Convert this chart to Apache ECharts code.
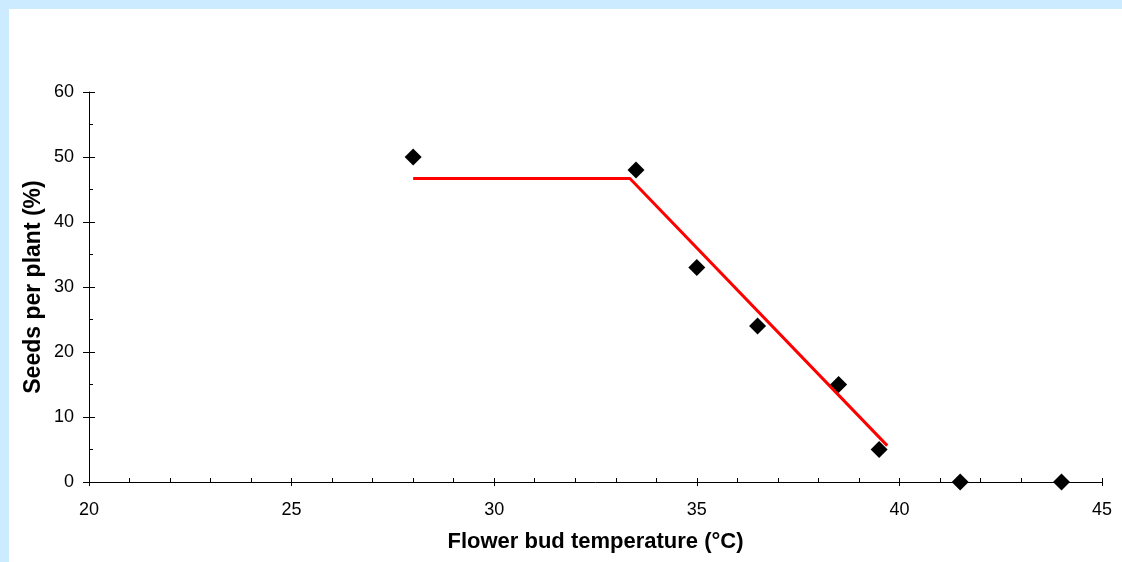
<!DOCTYPE html>
<html>
<head>
<meta charset="utf-8">
<script src="https://cdn.jsdelivr.net/npm/echarts@6/dist/echarts.min.js"></script>
<style>
html,body{margin:0;padding:0;background:#cdebff;}
#chart{width:1122px;height:562px;}
</style>
</head>
<body>
<div id="chart"></div>
<script>
// Observed data points
const temperature = [28, 33.5, 35, 36.5, 38.5, 39.5, 41.5, 44];
const seeds = [50, 48, 33, 24, 15, 5, 0, 0];
// Fitted broken-stick line (vertices)
const fitX = [28, 33.35, 39.7];
const fitY = [46.7, 46.7, 5.6];
// Axis settings
const xTitle = 'Flower bud temperature (°C)';
const yTitle = 'Seeds per plant (%)';
const xMin = 20, xMax = 45, xStep = 5;
const yMin = 0, yMax = 60, yStep = 10;

const font = 'Liberation Sans, Arial, sans-serif';
const chart = echarts.init(document.getElementById('chart'), null, {renderer: 'canvas'});

const baseX = {
  type: 'value', min: xMin, max: xMax, interval: xStep, position: 'bottom',
  splitLine: {show: false}
};
const baseY = {
  type: 'value', min: yMin, max: yMax, interval: yStep, position: 'left',
  splitLine: {show: false}
};

chart.setOption({
  backgroundColor: '#cdebff',
  animation: false,
  graphic: [{
    type: 'rect', left: 9, top: 9, z: -10,
    shape: {width: 1122 - 9, height: 562 - 9},
    style: {fill: '#ffffff'}
  }],
  grid: {left: 89, right: 20, top: 92, bottom: 80, containLabel: false},
  xAxis: [
    Object.assign({}, baseX, {
      name: xTitle, nameLocation: 'middle', nameGap: 49, nameMoveOverlap: false,
      nameTextStyle: {fontFamily: font, fontSize: 22, fontWeight: 'bold', color: '#000'},
      axisLine: {show: true, lineStyle: {color: '#000', width: 1}},
      axisTick: {show: true, inside: false, length: 4, lineStyle: {color: '#000'}},
      axisLabel: {fontFamily: font, fontSize: 18, color: '#000', margin: 19}
    }),
    Object.assign({}, baseX, {
      axisLine: {show: false},
      axisTick: {show: true, inside: true, length: 4, lineStyle: {color: '#000'}},
      minorTick: {show: true, splitNumber: 5, length: 4, lineStyle: {color: '#000', width: 1}},
      axisLabel: {show: false}
    })
  ],
  yAxis: [
    Object.assign({}, baseY, {
      name: yTitle, nameLocation: 'middle', nameGap: 44, nameMoveOverlap: false,
      nameTextStyle: {fontFamily: font, fontSize: 23, fontWeight: 'bold', color: '#000'},
      axisLine: {show: true, lineStyle: {color: '#000', width: 1}},
      axisTick: {show: true, inside: false, length: 6, lineStyle: {color: '#000'}},
      axisLabel: {fontFamily: font, fontSize: 18, color: '#000', margin: 15}
    }),
    Object.assign({}, baseY, {
      axisLine: {show: false},
      axisTick: {show: true, inside: true, length: 6, lineStyle: {color: '#000'}},
      minorTick: {show: true, splitNumber: 2, length: 4, lineStyle: {color: '#000', width: 1}},
      axisLabel: {show: false}
    })
  ],
  series: [
    {
      type: 'line',
      data: fitX.map((x, i) => [x, fitY[i]]),
      showSymbol: false, symbol: 'none',
      lineStyle: {color: '#ff0000', width: 3},
      z: 2
    },
    {
      type: 'scatter',
      data: temperature.map((x, i) => [x, seeds[i]]),
      symbol: 'diamond', symbolSize: 17,
      itemStyle: {color: '#000000', opacity: 1},
      z: 3
    }
  ]
});
</script>
</body>
</html>
